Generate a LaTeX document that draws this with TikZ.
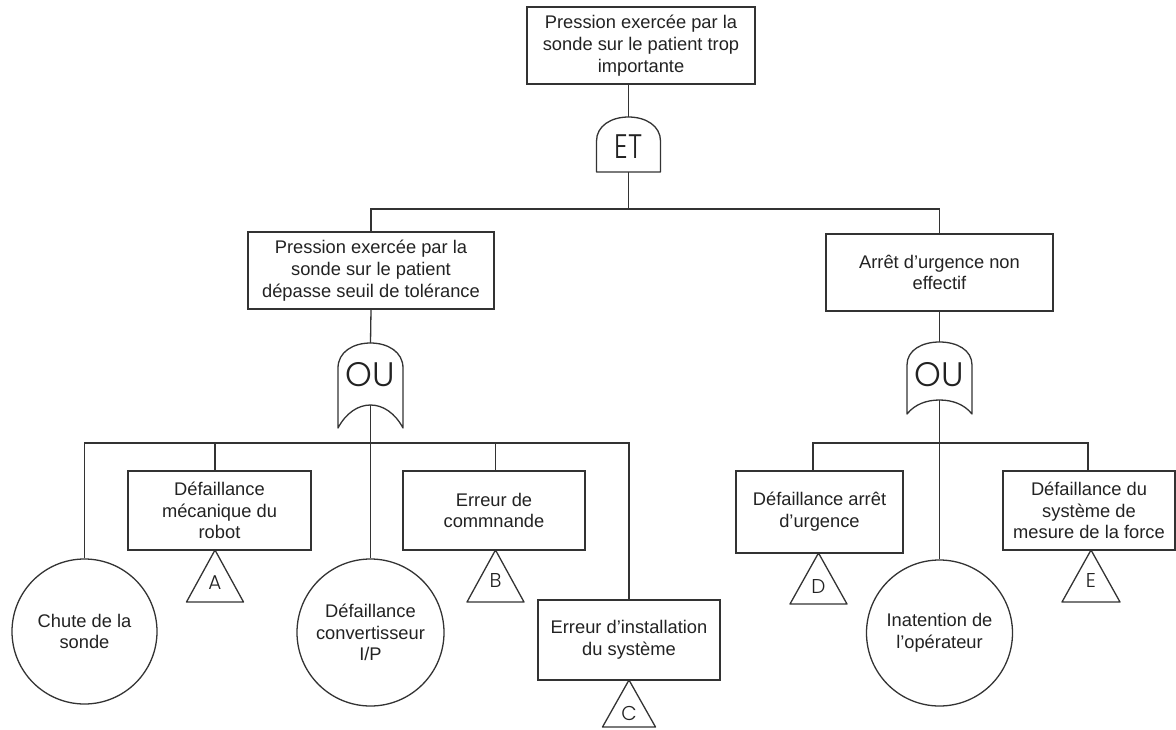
\documentclass[tikz,border=0pt]{standalone}
\usepackage{fontspec}
\setmainfont{Liberation Sans}
\newfontfamily\gatefont{Poppins Light}
\definecolor{ink}{HTML}{333333}
\definecolor{txt}{HTML}{222222}
\begin{document}
\begin{tikzpicture}[x=1pt,y=-1pt,line width=1.3pt,color=ink,
  evt/.style={draw=ink,rectangle,inner sep=0pt,align=center,text=txt,
    font=\fontsize{18.3}{21.7}\selectfont},
  circ/.style={draw=ink,circle,inner sep=0pt,align=center,text=txt,
    font=\fontsize{18.3}{21.7}\selectfont},
  gl/.style={inner sep=0pt,text=txt,font=\gatefont\fontsize{34}{34}\selectfont},
  tl/.style={inner sep=0pt,text=txt,font=\gatefont\fontsize{20}{20}\selectfont},
  gatepath/.style={draw=ink,line join=round},
]
\useasboundingbox (0,0) rectangle (1176,729);

% events
\node[evt,minimum width=228,minimum height=77] (top) at (641,45.5)
  {Pression exercée par la\\sonde sur le patient trop\\importante};
\node[evt,minimum width=246,minimum height=77] (L1) at (371,270.5)
  {Pression exercée par la\\sonde sur le patient\\dépasse seuil de tolérance};
\node[evt,minimum width=227,minimum height=77] (R1) at (939.5,272.5)
  {Arrêt d’urgence non\\effectif};
\node[evt,minimum width=183,minimum height=79] (mech) at (219.5,510.5)
  {Défaillance\\mécanique du\\robot};
\node[evt,minimum width=182,minimum height=79] (cmd) at (494,510.5)
  {Erreur de\\commnande};
\node[evt,minimum width=182,minimum height=80] (inst) at (629,640)
  {Erreur d’installation\\du système};
\node[evt,minimum width=167,minimum height=82] (arret) at (819.5,512)
  {Défaillance arrêt\\d’urgence};
\node[evt,minimum width=172,minimum height=79] (sys) at (1089,510.5)
  {Défaillance du\\système de\\mesure de la force};
\node[circ,minimum size=145] (chute) at (84.5,631.5) {Chute de la\\sonde};
\node[circ,minimum size=147] (conv) at (370.5,632.5) {Défaillance\\convertisseur\\I/P};
\node[circ,minimum size=146] (inat) at (939.5,633) {Inatention de\\l’opérateur};

% ET gate
\coordinate (etT) at (628.5,117);
\coordinate (etB) at (628.5,172);
\draw[gatepath] (596.5,172) -- (596.5,141) .. controls (596.5,126) and (611,117) .. (etT)
  .. controls (646,117) and (660.5,126) .. (660.5,141) -- (660.5,172) -- cycle;
\node[gl,xscale=0.8] (et) at (628.5,147) {ET};

% OU gate left
\coordinate (ouLT) at (370.5,343);
\coordinate (ouLB) at (370.5,405);
\draw[gatepath] (338,428) -- (338,368) .. controls (338,352) and (353,343) .. (ouLT)
  .. controls (388,343) and (403,352) .. (403,368) -- (403,428)
  .. controls (395,413) and (383,405) .. (ouLB)
  .. controls (358,405) and (346,413) .. (338,428) -- cycle;
\node[gl] (ouL) at (370.5,375) {OU};

% OU gate right
\coordinate (ouRT) at (939.5,342);
\coordinate (ouRB) at (939.5,400);
\draw[gatepath] (907,414) -- (907,365) .. controls (907,350) and (922,342) .. (ouRT)
  .. controls (957,342) and (972,350) .. (972,365) -- (972,414)
  .. controls (964,404) and (952,400) .. (ouRB)
  .. controls (927,400) and (915,404) .. (907,414) -- cycle;
\node[gl] (ouR) at (939.5,375) {OU};

% connectors top level
\coordinate (bus1) at (628.5,209);
\draw (etT) -- (etT |- top.south);
\draw (etB) -- (bus1);
\draw (L1.north) |- (bus1) -| (R1.north);
\draw (L1.south) -- (ouLT);
\draw (R1.south) -- (ouRT);

% left branch
\coordinate (busL) at (370.5,443);
\draw (chute.north) |- (busL) -| (inst.north);
\draw ([xshift=-4.5]mech.north) -- ([xshift=-4.5]mech.north |- busL);
\draw ([xshift=1.5]cmd.north) -- ([xshift=1.5]cmd.north |- busL);
\draw (ouLB) -- (conv.north);

% right branch
\coordinate (busR) at (939.5,443);
\draw ([xshift=-6.5]arret.north) |- (busR) -| ([xshift=-1]sys.north);
\draw (ouRB) -- (inat.north);

% transfer triangles
\coordinate (tA) at (215,550);
\draw[gatepath] (tA) -- ++(-28.5,52) -- ++(57,0) -- cycle;
\node[tl] (lA) at (215,583) {A};
\coordinate (tB) at (495.5,550);
\draw[gatepath] (tB) -- ++(-28.5,52) -- ++(57,0) -- cycle;
\node[tl] (lB) at (495.5,580) {B};
\coordinate (tC) at (629,680);
\draw[gatepath] (tC) -- ++(-26.5,47) -- ++(53,0) -- cycle;
\node[tl] (lC) at (629,713) {C};
\coordinate (tD) at (818.5,553);
\draw[gatepath] (tD) -- ++(-28.5,51) -- ++(57,0) -- cycle;
\node[tl] (lD) at (818.5,587) {D};
\coordinate (tE) at (1091,550);
\draw[gatepath] (tE) -- ++(-29,52) -- ++(58,0) -- cycle;
\node[tl] (lE) at (1091,580) {E};
\end{tikzpicture}
\end{document}
